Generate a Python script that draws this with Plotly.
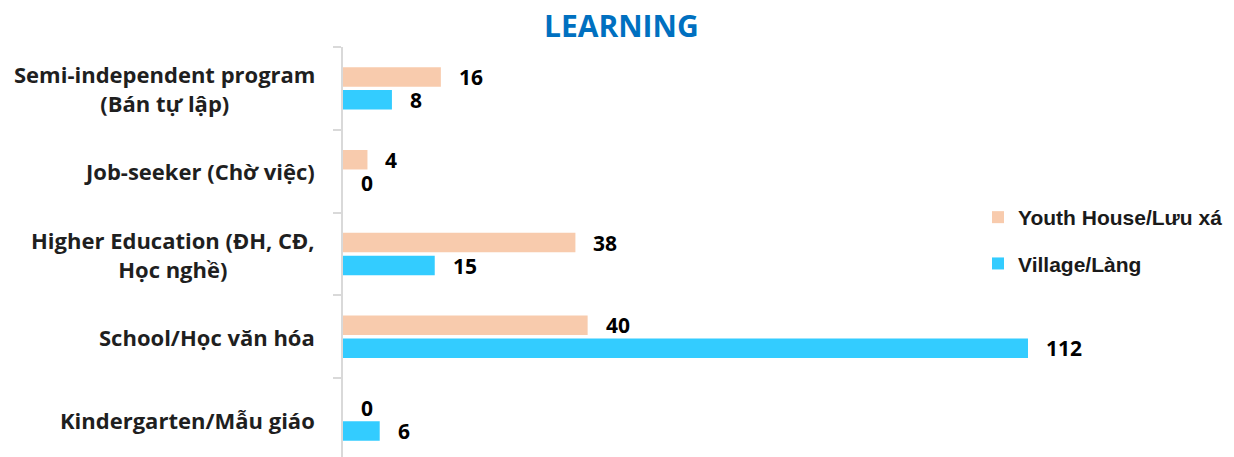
import plotly.graph_objects as go

categories = [
    "Semi-independent program<br>(Bán tự lập)",
    "Job-seeker (Chờ việc)",
    "Higher Education (ĐH, CĐ,<br>Học nghề)",
    "School/Học văn hóa",
    "Kindergarten/Mẫu giáo",
]
youth_house = [16, 4, 38, 40, 0]
village = [8, 0, 15, 112, 6]
series_names = ["Youth House/Lưu xá", "Village/Làng"]
series_values = [youth_house, village]
colors = ["#F8CBAD", "#33CCFF"]
title_text = "LEARNING"

W, H = 1234, 457
ML, MR, MT, MB = 335, 100, 39, 0
plot_w = W - ML - MR
plot_h = H - MT - MB
px_per_unit = 6.116
x_max = plot_w / px_per_unit
cat_px = 82.8
y_bottom = -0.5 + plot_h / cat_px

fig = go.Figure()
for name, vals, col, grp in zip(series_names, series_values, colors, ["g1", "g2"]):
    fig.add_trace(go.Bar(
        y=categories, x=vals, name="<b>" + name + "</b>", orientation="h",
        marker=dict(color=col, line=dict(width=0)),
        legendgroup=grp,
    ))

annotations = []
# category labels
for c in categories:
    annotations.append(dict(
        xref="paper", x=0, xanchor="right", xshift=-26,
        yref="y", y=c, yanchor="middle",
        text="<b>" + c + "</b>", showarrow=False, align="center",
        font=dict(family="Open Sans", size=22, color="#1F1F1F"),
    ))
# value labels
shifts = [11.5, -11.5]
for vals, sh in zip(series_values, shifts):
    for c, v in zip(categories, vals):
        annotations.append(dict(
            xref="x", x=v, xanchor="left", xshift=16,
            yref="y", y=c, yanchor="middle", yshift=sh,
            text="<b>" + str(v) + "</b>", showarrow=False,
            font=dict(family="Open Sans", size=21, color="#000000"),
        ))

fig.update_layout(
    width=W, height=H,
    margin=dict(l=ML, r=MR, t=MT, b=MB, pad=0, autoexpand=False),
    paper_bgcolor="white", plot_bgcolor="white",
    barmode="group", bargap=0.446, bargroupgap=0.15,
    title=dict(
        text="<b>" + title_text + "</b>", x=0.497, xref="container", xanchor="center",
        y=1 - 18 / H, yref="container", yanchor="middle",
        font=dict(family="Open Sans", size=30, color="#0070C0"),
    ),
    xaxis=dict(visible=False, range=[0, x_max]),
    yaxis=dict(
        type="category", categoryorder="array", categoryarray=categories,
        range=[y_bottom, -0.5],
        showline=True, linecolor="#D9D9D9", linewidth=1.5,
        ticks="outside", tickson="boundaries", ticklen=8, tickcolor="#D9D9D9", tickwidth=1.5,
        showticklabels=False, showgrid=False, zeroline=False,
    ),
    legend=dict(
        xref="container", x=970 / W, xanchor="left",
        yref="container", y=1 - 189 / H, yanchor="top",
        traceorder="grouped", tracegroupgap=16,
        font=dict(family="Liberation Sans", size=21, color="#1A1A1A"),
        bgcolor="rgba(0,0,0,0)",
    ),
    showlegend=True,
    annotations=annotations,
)

fig.write_html("out.html")
